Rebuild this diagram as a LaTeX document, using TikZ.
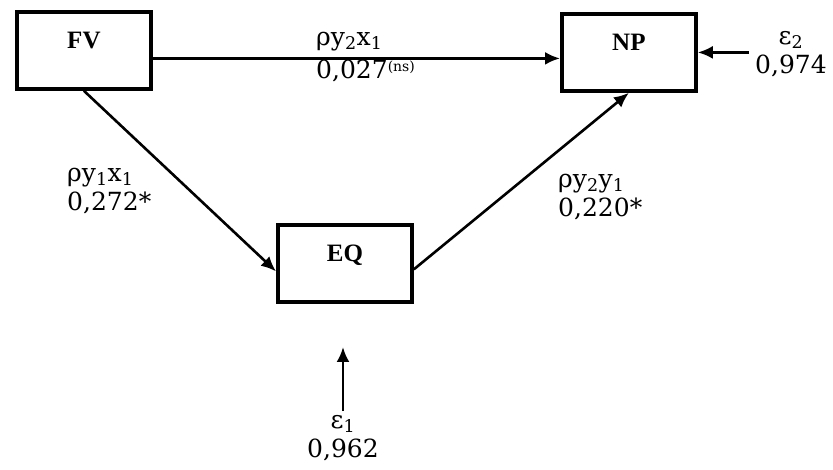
\documentclass[tikz,border=0pt]{standalone}
\usepackage{fontspec}
\setmainfont{DejaVu Serif}
\newfontfamily\boxfont{Liberation Serif}
\usetikzlibrary{arrows.meta}
\newcommand{\nsmark}{\raisebox{0.5ex}{\fontsize{14}{14}\selectfont(ns)}}
\begin{document}
\begin{tikzpicture}[x=1pt,y=-1pt,
    box/.style={draw,line width=3.8pt,anchor=north west,inner sep=0pt,
      minimum width=134pt,text height=37pt,text depth=40pt,
      font=\boxfont\bfseries\fontsize{25}{30}\selectfont},
    arr/.style={line width=2.6pt,-{Latex[length=15pt,width=13pt]}},
    lbl/.style={align=left,inner sep=0pt,font=\fontsize{25}{29}\selectfont}]
  \useasboundingbox (0,0) rectangle (833,470);
  % variables
  \foreach \name/\x/\y/\txt in {fv/15/10/FV,np/560/12/NP,eq/276/223/EQ}{
    \node[box] (\name) at (\x,\y) {\txt};
  }
  % paths
  \draw[arr] ([yshift=-8pt]fv.east) -- ([yshift=-8pt]fv.east -| np.west);
  \draw[arr] (fv.south) -- ([yshift=-8pt]eq.west);
  \draw[arr] ([yshift=-6pt]eq.east) -- (np.south);
  \node[lbl,anchor=west,font=\fontsize{25}{33}\selectfont] (l21) at (316,57) {ρy\textsubscript{2}x\textsubscript{1}\\0,027\nsmark};
  \node[lbl,anchor=west] (l11) at (67,191) {ρy\textsubscript{1}x\textsubscript{1}\\0,272*};
  \node[lbl,anchor=west] (l22) at (558,197) {ρy\textsubscript{2}y\textsubscript{1}\\0,220*};
  % residuals
  \node[lbl,align=center] (e2) at (791,54) {ε\textsubscript{2}\\0,974};
  \draw[arr] ([xshift=-6pt]e2.west |- np.east) -- (np.east);
  \node[lbl,align=center] (e1) at (343,438) {ε\textsubscript{1}\\0,962};
  \coordinate (t1) at (343,347);
  \draw[arr] ([yshift=4pt]e1.north) -- (t1);
\end{tikzpicture}
\end{document}
